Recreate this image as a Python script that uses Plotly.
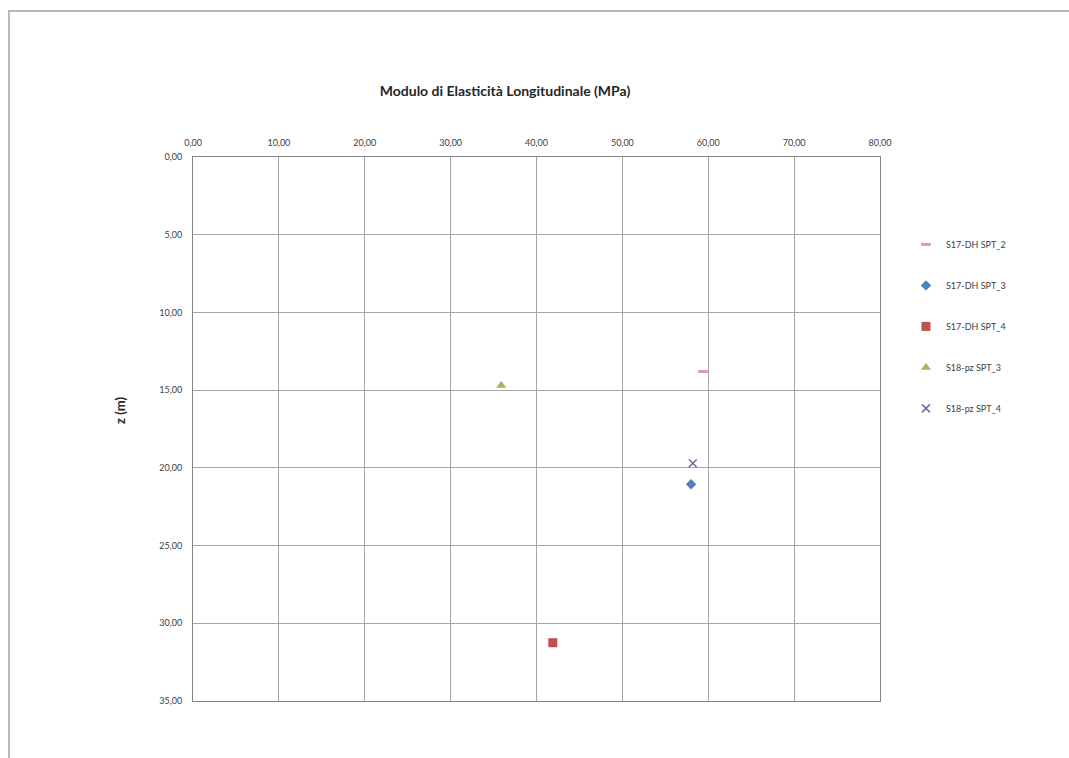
import plotly.graph_objects as go

# Modulo di elasticità per sondaggio / prova SPT
series_names = ["S17-DH SPT_2", "S17-DH SPT_3", "S17-DH SPT_4", "S18-pz SPT_3", "S18-pz SPT_4"]
e_mpa = [59.4, 58.0, 41.9, 35.9, 58.2]
depth_m = [13.8, 21.05, 31.25, 14.7, 19.7]

x_ticks = [0, 10, 20, 30, 40, 50, 60, 70, 80]
y_ticks = [0, 5, 10, 15, 20, 25, 30, 35]

styles = [
    dict(symbol="line-ew", size=7, color="#e39a98", line=dict(width=3, color="#e39a98")),
    dict(symbol="diamond", size=8, color="#4f81bd", line=dict(width=0)),
    dict(symbol="square", size=9, color="#c0504d", line=dict(width=0)),
    dict(symbol="triangle-up", size=9, color="#9bbb59", line=dict(width=0)),
    dict(symbol="x-thin", size=8, color="#8064a2", line=dict(width=1.5, color="#8064a2")),
]

fig = go.Figure()
for i, name in enumerate(series_names):
    fig.add_trace(go.Scatter(
        x=[e_mpa[i]], y=[depth_m[i]], mode="markers", name=name,
        legendgroup=name, marker=styles[i],
    ))

font_family = "Lato, 'Open Sans', sans-serif"

fig.update_layout(
    width=1069, height=758,
    margin=dict(l=193, r=189, t=157, b=57),
    paper_bgcolor="white", plot_bgcolor="white",
    separators=",.",
    font=dict(family=font_family, size=9, color="#404040"),
    title=dict(
        text="<b>Modulo di Elasticità Longitudinale (MPa)</b>",
        x=0.4724, xanchor="center", y=0.88, yanchor="middle",
        font=dict(family=font_family, size=14, color="#262626"),
    ),
    xaxis=dict(
        side="top", range=[0, 80], tickvals=x_ticks, tickformat=".2f",
        showgrid=True, gridcolor="#a6a6a6", gridwidth=1,
        showline=True, linecolor="#868686", mirror=True, zeroline=False,
        ticks="", ticklabelstandoff=6,
    ),
    yaxis=dict(
        range=[35, 0], tickvals=y_ticks, tickformat=".2f",
        showgrid=True, gridcolor="#a6a6a6", gridwidth=1,
        showline=True, linecolor="#868686", mirror=True, zeroline=False,
        ticks="", ticklabelstandoff=8,
    ),
    legend=dict(
        x=1.0378, xanchor="left", y=0.866, yanchor="top",
        font=dict(family=font_family, size=9, color="#404040"),
        tracegroupgap=22, itemwidth=30, bgcolor="rgba(0,0,0,0)",
    ),
    showlegend=True,
)

# Y axis title
fig.add_annotation(
    text="<b>z (m)</b>", textangle=-90, xref="paper", yref="paper",
    x=-0.1063, y=0.535, xanchor="center", yanchor="middle", showarrow=False,
    font=dict(family=font_family, size=13, color="#262626"),
)

# Chart area frame: an empty bordered box whose right and bottom sides run off the page
fig.add_annotation(
    text=" ", xref="paper", yref="paper", x=-0.2695, y=1.2711,
    xanchor="left", yanchor="top", showarrow=False,
    width=1200, height=900, borderpad=0,
    bordercolor="#b9b9b9", borderwidth=2, bgcolor="rgba(0,0,0,0)",
    captureevents=False,
)

# Keep the page from scrolling when the frame runs past its edges
fig.write_html(
    "out.html",
    post_script=(
        "document.documentElement.style.overflow='hidden';"
        "document.body.style.overflow='hidden';"
        "document.body.style.margin='0';"
    ),
)
